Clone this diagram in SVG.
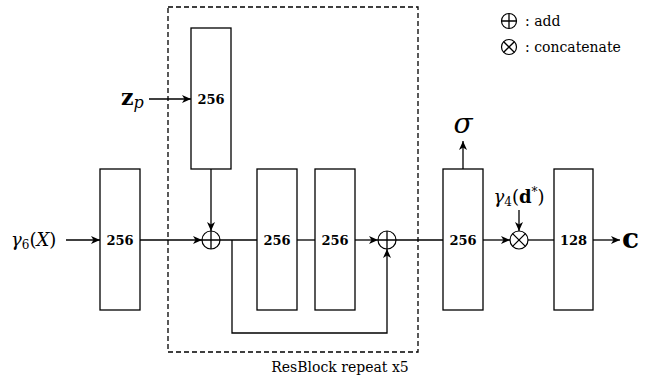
<svg xmlns="http://www.w3.org/2000/svg" width="645" height="379" viewBox="0 0 645 379">
<defs>
<style>
.box{fill:#fff;stroke:#000;stroke-width:1.3}
.ln{fill:none;stroke:#000;stroke-width:1.3}
.op{fill:#fff;stroke:#000;stroke-width:1.2}
text{font-family:'DejaVu Serif','Liberation Serif',serif}
.num{font-weight:bold;text-anchor:middle;font-size:13px}
.mi{font-style:italic}
</style>
<marker id="ar" markerWidth="10" markerHeight="8" refX="9" refY="4" orient="auto" markerUnits="userSpaceOnUse">
<path d="M0,0 L9,4 L0,8 L2.5,4 z" fill="#000"/>
</marker>
</defs>
<rect x="168" y="7" width="250" height="345" fill="none" stroke="#000" stroke-width="1.3" stroke-dasharray="5,3"/>
<text x="340" y="372" text-anchor="middle" style="font-size:14px">ResBlock repeat x5</text>
<g id="connectors">
<line class="ln" x1="66" y1="240" x2="100" y2="240" marker-end="url(#ar)"/>
<line class="ln" x1="140" y1="240" x2="202" y2="240" marker-end="url(#ar)"/>
<line class="ln" x1="149" y1="99" x2="191" y2="99" marker-end="url(#ar)"/>
<line class="ln" x1="211" y1="169" x2="211" y2="231" marker-end="url(#ar)"/>
<line class="ln" x1="220" y1="240" x2="257" y2="240"/>
<line class="ln" x1="297" y1="240" x2="315" y2="240"/>
<line class="ln" x1="355" y1="240" x2="378" y2="240" marker-end="url(#ar)"/>
<polyline class="ln" points="232,240 232,333 387,333 387,249" marker-end="url(#ar)"/>
<line class="ln" x1="396" y1="240" x2="443" y2="240"/>
<line class="ln" x1="483" y1="240" x2="510" y2="240" marker-end="url(#ar)"/>
<line class="ln" x1="463" y1="169" x2="463" y2="141" marker-end="url(#ar)"/>
<line class="ln" x1="519" y1="210" x2="519" y2="231" marker-end="url(#ar)"/>
<line class="ln" x1="528" y1="240" x2="554" y2="240"/>
<line class="ln" x1="593" y1="240" x2="620" y2="240" marker-end="url(#ar)"/>
</g>
<g id="input"><text x="11" y="246" style="font-size:18px"><tspan class="mi">γ</tspan><tspan style="font-size:12px" dy="3">6</tspan><tspan dy="-3">(</tspan><tspan class="mi">X</tspan><tspan>)</tspan></text></g>
<g id="zp"><text x="121" y="105" style="font-size:22px;font-weight:bold">z<tspan class="mi" style="font-weight:normal;font-size:16px" dy="3">p</tspan></text></g>
<g id="b1"><rect class="box" x="100" y="169" width="40" height="141"/><text class="num" x="120" y="245">256</text></g>
<g id="bz"><rect class="box" x="191" y="28" width="40" height="141"/><text class="num" x="211" y="104">256</text></g>
<g id="add1"><circle class="op" cx="211" cy="240" r="9"/><path class="ln" d="M202,240 H220 M211,231 V249"/></g>
<g id="b3"><rect class="box" x="257" y="169" width="40" height="141"/><text class="num" x="277" y="245">256</text></g>
<g id="b4"><rect class="box" x="315" y="169" width="40" height="141"/><text class="num" x="335" y="245">256</text></g>
<g id="add2"><circle class="op" cx="387" cy="240" r="9"/><path class="ln" d="M378,240 H396 M387,231 V249"/></g>
<g id="b5"><rect class="box" x="443" y="169" width="40" height="141"/><text class="num" x="463" y="245">256</text></g>
<g id="sigma"><text x="463" y="133" class="mi" text-anchor="middle" style="font-size:28px">σ</text></g>
<g id="cat"><circle class="op" cx="519" cy="240" r="9"/><path class="ln" d="M512.6,233.6 L525.4,246.4 M525.4,233.6 L512.6,246.4"/></g>
<g id="dlabel"><text x="519" y="203" text-anchor="middle" style="font-size:18px"><tspan class="mi">γ</tspan><tspan style="font-size:12px" dy="3">4</tspan><tspan dy="-3">(</tspan><tspan style="font-weight:bold">d</tspan><tspan style="font-size:12px" dy="-7">*</tspan><tspan dy="7">)</tspan></text></g>
<g id="b6"><rect class="box" x="554" y="169" width="39" height="141"/><text class="num" x="573.5" y="245">128</text></g>
<g id="out"><text x="622" y="248" style="font-size:28px;font-weight:bold">c</text></g>
<g id="legend">
<circle class="op" cx="509" cy="21" r="7.5"/><path class="ln" d="M501.5,21 H516.5 M509,13.5 V28.5"/>
<text x="525" y="26" style="font-size:14px">: add</text>
<circle class="op" cx="509" cy="47" r="7.5"/><path class="ln" d="M503.7,41.7 L514.3,52.3 M514.3,41.7 L503.7,52.3"/>
<text x="525" y="52" style="font-size:14px">: concatenate</text>
</g>
</svg>
